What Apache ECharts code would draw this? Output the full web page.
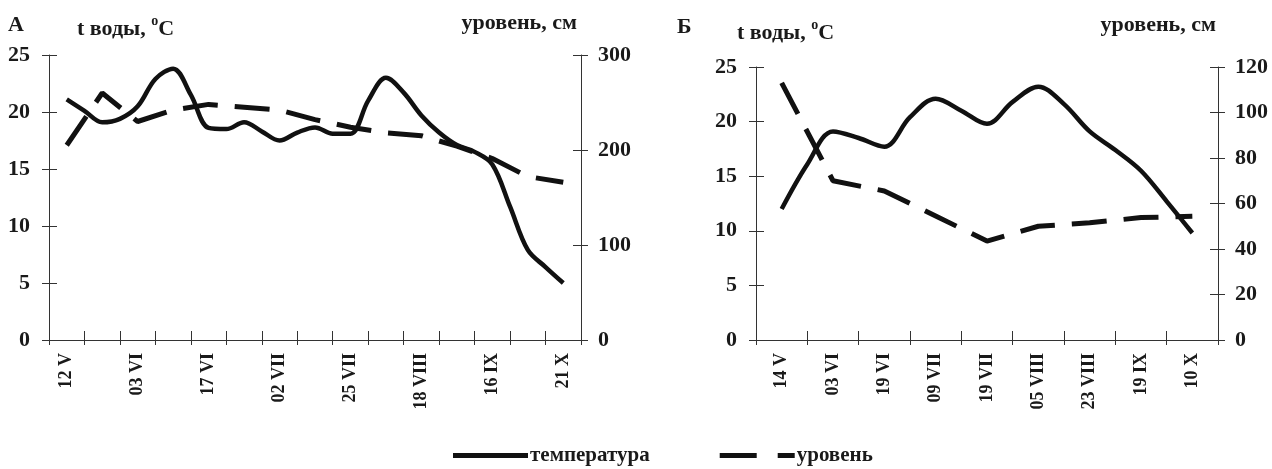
<!DOCTYPE html>
<html>
<head>
<meta charset="utf-8">
<script src="https://cdn.jsdelivr.net/npm/echarts@6/dist/echarts.min.js"></script>
<style>
html,body{margin:0;padding:0;background:#fff;}
#chart{width:1272px;height:469px;}
</style>
</head>
<body>
<div id="chart"></div>
<script>
// ---- data ----
const catsA = ['12 V','','03 VI','','17 VI','','02 VII','','25 VII','','18 VIII','','16 IX','','21 X'];
// temperature A, every half category step (0, 0.5, 1, ... 14)
const tempA = [21.1,20.1,19.1,19.4,20.5,22.9,23.8,21.5,18.6,18.5,19.1,18.3,17.5,18.2,18.65,18.1,18.1,21.0,23.0,21.7,19.7,18.2,17.1,16.5,15.4,11.7,7.9,6.4,5.0];
// level A, one per category
const levelA = [205,260,230,242,248,245,242,232,224,218,215,204,191,172,166];

const catsB = ['14 V','03 VI','19 VI','09 VII','19 VII','05 VIII','23 VIII','19 IX','10 X'];
const tempB = [12.0,16.1,19.1,18.5,17.7,20.4,22.1,21.0,19.8,21.8,23.2,21.6,19.1,17.4,15.5,12.7,9.8];
const levelB = [113,70,65.5,54.5,43.5,50,51.5,53.8,54.4];

const seriesNames = ['температура','уровень'];

// ---- styles ----
const FONT = '"Liberation Serif", "Times New Roman", serif';
const INK = '#1a1a1a';
const halfStep = arr => arr.map((v,i)=>[i*0.5, v]);
const fullStep = arr => arr.map((v,i)=>[i, v]);

function catAxis(grid, data, visible){
  return {
    type:'category', gridIndex:grid, data:data, position:'bottom',
    boundaryGap:true,
    axisLine:{show:visible, onZero:false, lineStyle:{color:'#333', width:1}},
    axisTick:{show:true, inside:!visible, length: visible?5:9, interval:0, lineStyle:{color:'#333', width:1}},
    axisLabel:{show:visible, interval:0, rotate:90, margin:13, color:INK,
      fontFamily:FONT, fontWeight:'bold', fontSize:18},
    splitLine:{show:false}
  };
}
function valX(grid, n){
  return {type:'value', gridIndex:grid, min:-0.5, max:n-0.5, show:false,
    axisLine:{onZero:false}};
}
function valY(grid, pos, max, interval, visible){
  return {
    type:'value', gridIndex:grid, position:pos, min:0, max:max, interval:interval,
    axisLine:{show:visible, onZero:false, lineStyle:{color:'#333', width:1}},
    axisTick:{show:true, inside:!visible, length:visible?7:8, lineStyle:{color:'#333', width:1}},
    axisLabel:{show:visible, margin: pos==='left'?19:17, color:INK,
      fontFamily:FONT, fontWeight:'bold', fontSize:22},
    splitLine:{show:false}
  };
}
const titleStyle = {
  fontFamily:FONT, fontWeight:'bold', fontSize:22, color:INK,
  rich:{
    n:{fontFamily:FONT, fontWeight:'bold', fontSize:22, color:INK, lineHeight:26, verticalAlign:'bottom'},
    sup:{fontFamily:FONT, fontWeight:'bold', fontSize:14, color:INK, lineHeight:26, verticalAlign:'top'}
  }
};
const tText = '{n|t воды, }{sup|o}{n|C}';

const tempLine = {width:4.5, color:'#111', type:'solid', cap:'butt'};
const levelLine = {width:5, color:'#111', type:[35,17], cap:'butt'};

const option = {
  backgroundColor:'#fff',
  animation:false,
  title:[
    {text:'A', left:8, top:14, padding:0, textStyle:Object.assign({}, titleStyle, {fontSize:22})},
    {text:tText, left:77, top:14, padding:0, textStyle:titleStyle},
    {text:'уровень, см', right:695, top:12, padding:0, textStyle:titleStyle},
    {text:'Б', left:677, top:16, padding:0, textStyle:Object.assign({}, titleStyle, {fontSize:22})},
    {text:tText, left:737, top:18, padding:0, textStyle:titleStyle},
    {text:'уровень, см', right:56, top:14, padding:0, textStyle:titleStyle}
  ],
  legend:{
    left:448, top:440, itemWidth:75, itemHeight:5, itemGap:70,
    textStyle:{fontFamily:FONT, fontWeight:'bold', fontSize:21, color:INK, padding:[0,0,0,-3]},
    itemStyle:{color:'#111', borderWidth:0},
    data:[
      {name:seriesNames[0], icon:'rect'},
      {name:seriesNames[1], icon:'path://M0,0h37v5h-37z M58,0h17v5h-17z'}
    ]
  },
  grid:[
    {left:49, right:691, top:55, bottom:129, outerBoundsMode:'none'},
    {left:756, right:54, top:67, bottom:129, outerBoundsMode:'none'}
  ],
  xAxis:[
    catAxis(0, catsA, true),
    catAxis(0, catsA, false),
    valX(0, catsA.length),
    catAxis(1, catsB, true),
    catAxis(1, catsB, false),
    valX(1, catsB.length)
  ],
  yAxis:[
    valY(0,'left',25,5,true),
    valY(0,'right',300,100,true),
    valY(0,'left',25,5,false),
    valY(0,'right',300,100,false),
    valY(1,'left',25,5,true),
    valY(1,'right',120,20,true),
    valY(1,'left',25,5,false),
    valY(1,'right',120,20,false)
  ],
  series:[
    {name:seriesNames[0], type:'line', xAxisIndex:2, yAxisIndex:0, data:halfStep(tempA),
      smooth:0.35, symbol:'none', lineStyle:tempLine, itemStyle:{color:'#111'}, z:3},
    {name:seriesNames[1], type:'line', xAxisIndex:2, yAxisIndex:1, data:fullStep(levelA),
      smooth:false, symbol:'none', lineStyle:levelLine, itemStyle:{color:'#111'}, z:2},
    {name:seriesNames[0], type:'line', xAxisIndex:5, yAxisIndex:4, data:halfStep(tempB),
      smooth:0.35, symbol:'none', lineStyle:tempLine, itemStyle:{color:'#111'}, z:3},
    {name:seriesNames[1], type:'line', xAxisIndex:5, yAxisIndex:5, data:fullStep(levelB),
      smooth:false, symbol:'none', lineStyle:levelLine, itemStyle:{color:'#111'}, z:2}
  ]
};
const chart = echarts.init(document.getElementById('chart'), null, {renderer:'canvas'});
chart.setOption(option);
</script>
</body>
</html>
